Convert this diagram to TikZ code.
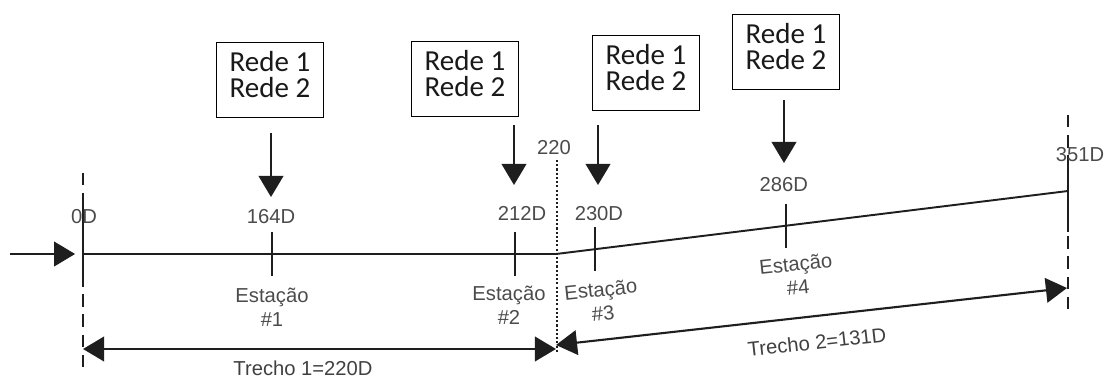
\documentclass[tikz,border=0pt]{standalone}
\usepackage{fontspec}
\setmainfont{Liberation Sans}
\newfontfamily\redefont{Carlito}
\usetikzlibrary{arrows.meta,calc,positioning}
\definecolor{txtgray}{RGB}{75,75,75}
\definecolor{linegray}{RGB}{30,30,30}

\begin{document}
\begin{tikzpicture}[x=0.02cm,y=-0.02cm,
  font=\fontsize{11.5}{13.5}\selectfont,
  every node/.style={align=center,inner sep=0pt},
  rede/.style={draw,line width=0.8pt,inner xsep=7.5pt,inner ysep=5pt,text depth=6.5pt,
    font=\redefont\fontsize{16.5}{15}\selectfont,text=black!90},
  lbl/.style={text=txtgray},
  flow/.style={line width=1.3pt,draw=linegray,-{Triangle[length=12pt,width=14pt]}},
  span/.style={line width=1.2pt,draw=linegray,
    {Triangle[length=12pt,width=14pt]}-{Triangle[length=12pt,width=14pt]}},
  tick/.style={line width=1.1pt,draw=linegray},
  limit/.style={line width=1pt,draw=linegray,dash pattern=on 7pt off 4.5pt}]

\useasboundingbox (0,0) rectangle (1107,379);

%route of the line
  \coordinate (s0) at (83,254);
  \coordinate (brk) at (556,254);
  \coordinate (s5) at (1068,191);
  \coordinate (feed) at (10,254);
  \coordinate (st1) at (272,254);
  \coordinate (st2) at (515,254);
  \coordinate (st3) at ($(brk)!0.076!(s5)$);
  \coordinate (st4) at ($(brk)!0.449!(s5)$);

  \draw[line width=1.1pt,draw=linegray] (s0) -- (brk) -- (s5);
  \draw[flow,shorten >=4.5pt] (feed) -- (s0);

%limits of the two sections
  \coordinate (lim0t) at (83,173);   \coordinate (lim0b) at (83,367);
  \coordinate (limbt) at (557,160);  \coordinate (limbb) at (557,353);
  \coordinate (lim5t) at (1068,115); \coordinate (lim5b) at (1068,310);
  \draw[limit] (lim0t) -- (lim0b);
  \draw[limit] (lim5t) -- (lim5b);
  \draw[line width=1pt,draw=linegray,dash pattern=on 1.2pt off 1.2pt] (limbt) -- (limbb);
  \draw[tick] ($(s0)+(0,-57)$) -- ($(s0)+(0,33)$);
  \draw[tick] ($(s5)+(0,-24)$) -- ($(s5)+(0,41)$);

  \node[lbl] (d0) at (84,217) {0D};
  \node[lbl] (db) at (554,148) {220};
  \node[lbl] (d5) at (1080,155) {351D};

%stations
  \foreach \s in {st1,st2,st3,st4}
    \draw[tick] ($(\s)+(0,-22)$) -- ($(\s)+(0,22)$);

  \node[lbl] (d1) at ($(st1)+(-1,-37)$) {164D};
  \node[lbl] (d2) at ($(st2)+(7,-41)$) {212D};
  \node[lbl] (d3) at ($(st3)+(4,-36)$) {230D};
  \node[lbl] (d4) at ($(st4)+(-2,-41)$) {286D};

  \node[lbl] (e1) at ($(st1)+(0,53)$) {Estação\\\#1};
  \node[lbl] (e2) at ($(st2)+(-6,51)$) {Estação\\\#2};
  \node[lbl,rotate=6] (e3) at ($(st3)+(7,52)$) {Estação\\\#3};
  \node[lbl,rotate=6] (e4) at ($(st4)+(11,50)$) {Estação\\\#4};

%networks feeding each station
  \node[rede] (r1) at (270,80) {Rede 1\\Rede 2};
  \node[rede] (r2) at (465,79) {Rede 1\\Rede 2};
  \node[rede] (r3) at (646,73) {Rede 1\\Rede 2};
  \node[rede] (r4) at (786,52) {Rede 1\\Rede 2};

  \foreach \i/\x/\ya/\yb in {1/271/133/197, 2/514/125/185, 3/598/125/185, 4/784/100/163} {
    \coordinate (in\i) at (\x,\ya);
    \coordinate (out\i) at (\x,\yb); }
  \foreach \i in {1,...,4}
    \draw[flow] (in\i) -- (out\i);

%lengths of the sections
  \coordinate (b0) at (83,349);
  \coordinate (b1) at (556,349);
  \coordinate (b1b) at (556,345);
  \coordinate (b2) at (1067,288);
  \draw[span] (b0) -- (b1);
  \draw[span] (b1b) -- (b2);

  \node[text=black!75] (t1) at (303,368) {Trecho 1=220D};
  \node[text=black!75,rotate=6.4] (t2) at (817,342) {Trecho 2=131D};

\end{tikzpicture}
\end{document}
